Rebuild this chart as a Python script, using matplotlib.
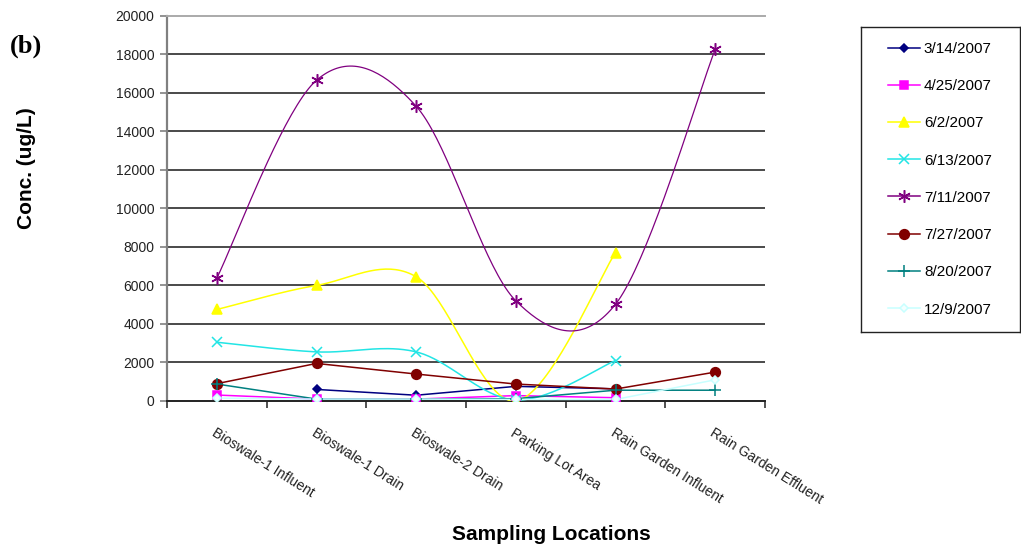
import numpy as np
import matplotlib
matplotlib.use('Agg')
import matplotlib.pyplot as plt

# Sampling sites and concentrations (ug/L) for each sampling date
locations = ['Bioswale-1 Influent', 'Bioswale-1 Drain', 'Bioswale-2 Drain',
             'Parking Lot Area', 'Rain Garden Influent', 'Rain Garden Effluent']
dates = ['3/14/2007', '4/25/2007', '6/2/2007', '6/13/2007',
         '7/11/2007', '7/27/2007', '8/20/2007', '12/9/2007']

nan = np.nan
conc_0314 = [nan, 600, 300, 760, 630, nan]
conc_0425 = [310, 100, 100, 280, 170, nan]
conc_0602 = [4750, 6000, 6450, 0, 7700, nan]
conc_0613 = [3050, 2550, 2550, 50, 2100, nan]
conc_0711 = [6380, 16650, 15300, 5200, 5020, 18250]
conc_0727 = [900, 1950, 1400, 880, 620, 1500]
conc_0820 = [880, 100, 100, 120, 560, 560]
conc_1209 = [150, 100, 100, 80, 80, 1100]

yticks = list(range(0, 20001, 2000))

# line style per series: colour, marker, marker size, smoothed?
styles = [
    ('#000080', 'D', 4.5, False),
    ('#ff00ff', 's', 6, False),
    ('#ffff00', '^', 7, True),
    ('#22e5e5', 'x', 7, True),
    ('#800080', (6, 2, 0), 9, True),
    ('#800000', 'o', 7, False),
    ('#008080', '+', 8, False),
    ('#c8ffff', 'D', 4, False),
]
series = [conc_0314, conc_0425, conc_0602, conc_0613,
          conc_0711, conc_0727, conc_0820, conc_1209]


def smooth(x, y, n=40):
    # Excel-style smoothed line: cubic Bezier with Catmull-Rom control points
    x = np.asarray(x, float)
    y = np.asarray(y, float)
    ok = ~np.isnan(y)
    p = np.column_stack([x[ok], y[ok]])
    out = [p[:1]]
    t = np.linspace(0, 1, n)[1:, None]
    for i in range(len(p) - 1):
        p0 = p[max(i - 1, 0)]
        p1 = p[i]
        p2 = p[i + 1]
        p3 = p[min(i + 2, len(p) - 1)]
        c1 = p1 + (p2 - p0) / 6
        c2 = p2 - (p3 - p1) / 6
        seg = ((1 - t) ** 3 * p1 + 3 * (1 - t) ** 2 * t * c1
               + 3 * (1 - t) * t ** 2 * c2 + t ** 3 * p2)
        out.append(seg)
    out = np.vstack(out)
    return out[:, 0], out[:, 1]


fig = plt.figure(figsize=(10.21, 5.5), dpi=100)
ax = fig.add_axes([167 / 1021, 1 - 401 / 550, 598 / 1021, 385.3 / 550])

x = np.arange(len(locations))
handles = []
for vals, (col, mk, ms, smoothed) in zip(series, styles):
    vals = np.array(vals, float)
    lw = 0.9 if col == '#800080' else 1.1
    if smoothed:
        sx, sy = smooth(x, vals)
        ax.plot(sx, sy, color=col, lw=lw, zorder=3)
    else:
        ax.plot(x, vals, color=col, lw=lw, zorder=3)
    mfc = col
    if col == '#c8ffff':
        mfc = '#f4ffff'
    ax.plot(x, vals, ls='none', marker=mk, ms=ms, color=col, mfc=mfc,
            mec=col, mew=1.1, zorder=4)
    h, = ax.plot([], [], color=col, lw=1.1, marker=mk, ms=ms, mfc=mfc,
                 mec=col, mew=1.1)
    handles.append(h)

ax.set_xlim(-0.5, len(locations) - 0.5)
ax.set_ylim(0, 20000)
ax.set_yticks(yticks)
ax.set_yticklabels([str(v) for v in yticks], fontsize=10, color='#222222',
                   family='Liberation Sans')
ax.tick_params(axis='y', direction='out', length=5, width=1.2, color='#808080', pad=4)

ax.set_xticks(x)
ax.set_xticklabels(locations, rotation=-32, ha='left', va='top',
                   rotation_mode='anchor', fontsize=10, color='#222222',
                   family='Liberation Sans')
ax.tick_params(axis='x', which='major', length=0, pad=18)
ax.set_xticks(np.arange(-0.5, len(locations)), minor=True)
ax.tick_params(axis='x', which='minor', direction='out', length=5, width=1.2,
               color='#333333')

for v in yticks[1:-1]:
    ax.axhline(v, color='#4a4a4a', lw=1.4, zorder=1)

ax.spines['left'].set_color('#808080')
ax.spines['left'].set_linewidth(1.6)
ax.spines['bottom'].set_color('#222222')
ax.spines['bottom'].set_linewidth(1.4)
ax.spines['top'].set_color('#aaaaaa')
ax.spines['top'].set_linewidth(1.4)
ax.spines['right'].set_visible(False)

fig.text(551 / 1021, 1 - 535 / 550, 'Sampling Locations', ha='center', va='center',
         fontsize=15, fontweight='bold', family='Liberation Sans')
fig.text(27 / 1021, 1 - 168 / 550, 'Conc. (ug/L)', ha='center', va='center',
         rotation=90, fontsize=15, fontweight='bold', family='Liberation Sans')
fig.text(10 / 1021, 1 - 46 / 550, '(b)', ha='left', va='center',
         fontsize=19, fontweight='bold', family='Liberation Serif')

# legend in its own framed box on the right
lax = fig.add_axes([861 / 1021, 1 - 331.7 / 550, 159 / 1021, 305 / 550])
lax.set_xticks([])
lax.set_yticks([])
for s in lax.spines.values():
    s.set_color('#222222')
    s.set_linewidth(1.0)
lax.legend(handles, dates, loc='upper left', bbox_to_anchor=(0.17, 0.95),
           frameon=False, borderpad=0, borderaxespad=0, handlelength=2.1,
           handletextpad=0.25, labelspacing=1.52,
           prop={'family': 'Liberation Sans', 'size': 11})

plt.savefig('out.png', dpi=100)
